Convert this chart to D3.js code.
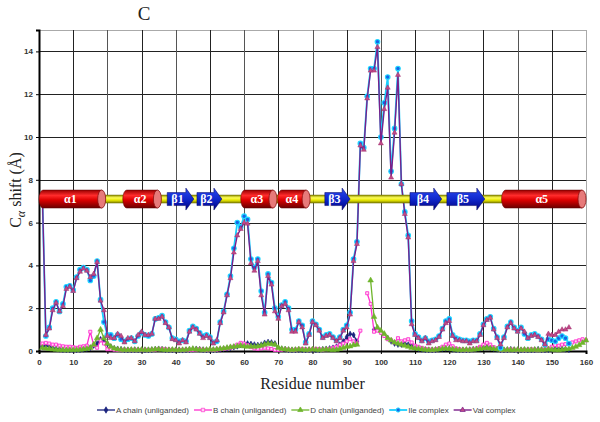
<!DOCTYPE html>
<html lang="en">
<head>
<meta charset="UTF-8">
<title>Ca shift</title>
<style>
body { margin: 0; background: #fff; }
.tick text { font: bold 8px Arial, "Liberation Sans", sans-serif; fill: #333; }
.serif { font-family: "Times New Roman", "Liberation Serif", serif; fill: #222; }
.legend text { font: 8px Arial, "Liberation Sans", sans-serif; fill: #444; }
.ss-label { font: bold 12px "Times New Roman", "Liberation Serif", serif; fill: #fff; }
</style>
</head>
<body>
<script src="https://d3js.org/d3.v7.min.js"></script>
<script>
// residue 1..n, values in Angstrom
var aChain = [0.2,0.25,0.2,0.15,0.1,0.08,0.06,0.05,0.05,0.05,
  0.05,0.06,0.08,0.1,0.15,0.25,0.35,0.55,0.5,0.35,
  0.2,0.12,0.1,0.08,0.06,0.05,0.05,0.06,0.05,0.05,
  0.05,0.05,0.06,0.08,0.1,0.08,0.06,0.05,0.05,0.05,
  0.05,0.04,0.05,0.06,0.08,0.1,0.08,0.06,0.05,0.05,
  0.05,0.06,0.08,0.1,0.12,0.15,0.18,0.22,0.28,0.3,
  0.35,0.33,0.3,0.28,0.3,0.38,0.42,0.4,0.35,0.15,
  0.1,0.08,0.06,0.05,0.05,0.06,0.05,0.05,0.06,0.05,
  0.05,0.06,0.08,0.1,0.12,0.15,0.2,0.3,0.45,0.65,
  0.8,0.75,0.45,null,null,null,null,1.0,1.05,0.9,
  0.75,0.6,0.45,0.35,0.3,0.3,0.35,0.3,0.25,0.15,
  0.1,0.08,0.06,0.05,0.05,0.06,0.08,0.1,0.12,0.1,
  0.08,0.06,0.05,0.05,0.05,0.06,0.08,0.1,0.12,0.15,
  0.18,0.15,0.1,0.08,0.06,0.05,0.06,0.08,0.06,0.05,
  0.05,0.06,0.05,0.05,0.06,0.08,0.06,0.05,0.06,0.08,
  0.1,0.12,0.1,0.08,0.06];

var bChain = [0.35,0.38,0.35,0.3,0.3,0.25,0.22,0.2,0.2,0.18,
  0.15,0.2,0.22,0.25,0.9,0.28,0.15,0.5,0.35,0.08,
  0.08,0.06,0.05,0.05,0.06,0.05,0.05,0.06,0.05,0.05,
  0.06,0.05,0.05,0.06,0.08,0.1,0.08,0.06,0.05,0.05,
  0.05,0.05,0.06,0.05,0.05,0.06,0.08,0.06,0.05,0.06,
  0.05,0.06,0.08,0.1,0.12,0.15,0.2,0.3,0.38,0.35,
  0.28,0.18,0.12,0.1,0.12,0.15,0.12,0.1,0.05,0.05,
  0.06,0.08,0.06,0.05,0.06,0.08,0.1,0.08,0.06,0.08,
  0.1,0.08,0.06,0.08,0.1,0.15,0.2,0.28,0.35,0.45,
  0.55,0.45,0.35,0.95,null,2.7,2.2,0.9,0.95,0.85,
  0.7,0.55,0.5,0.4,0.6,0.45,0.5,0.55,0.4,0.25,
  0.2,0.15,0.1,0.08,0.06,0.08,0.12,0.2,0.3,0.35,
  0.22,0.12,0.08,0.06,0.05,0.06,0.08,0.12,0.2,0.3,
  0.38,0.3,0.18,0.1,0.06,0.05,0.06,0.08,0.06,0.05,
  0.06,0.05,0.06,0.08,0.06,0.05,0.06,0.08,0.12,0.2,
  0.28,0.25,0.3,0.32,0.35,0.4,0.45,0.5,0.55,0.5];

var dChain = [0.15,0.12,0.1,0.08,0.06,0.05,0.05,0.04,0.05,0.05,
  0.05,0.06,0.08,0.1,0.15,0.3,0.6,1.0,0.6,0.35,
  0.2,0.12,0.08,0.06,0.05,0.05,0.06,0.05,0.05,0.06,
  0.05,0.05,0.06,0.08,0.08,0.06,0.05,0.05,0.06,0.05,
  0.05,0.05,0.06,0.08,0.1,0.08,0.06,0.05,0.06,0.08,
  0.06,0.08,0.1,0.12,0.15,0.18,0.2,0.22,0.25,0.22,
  0.2,0.22,0.2,0.22,0.25,0.3,0.35,0.33,0.3,0.15,
  0.1,0.08,0.06,0.05,0.06,0.08,0.06,0.05,0.06,0.08,
  0.06,0.05,0.06,0.08,0.06,0.05,0.06,0.1,0.15,0.2,
  0.22,0.28,0.3,null,null,null,3.3,1.6,1.1,0.95,
  0.8,0.6,0.5,0.4,0.35,0.3,0.25,0.2,0.15,0.12,
  0.1,0.08,0.06,0.05,0.05,0.06,0.08,0.1,0.12,0.1,
  0.08,0.06,0.05,0.05,0.06,0.05,0.06,0.08,0.1,0.12,
  0.15,0.12,0.1,0.08,0.06,0.05,0.06,0.05,0.05,0.06,
  0.05,0.06,0.05,0.05,0.06,0.05,0.05,0.06,0.08,0.06,
  0.05,0.04,0.06,0.08,0.1,0.15,0.2,0.28,0.38,0.5];

var ileComplex = [7.2,0.7,1.1,2.0,2.3,1.85,2.2,3.0,3.05,2.85,
  3.45,3.8,3.9,3.8,3.3,3.5,4.2,2.4,1.35,0.75,
  0.75,0.6,0.75,0.55,0.45,0.55,0.6,0.45,0.7,0.85,
  0.75,0.7,0.8,1.5,1.55,1.65,1.35,1.1,0.6,0.55,
  0.45,0.5,0.45,0.95,1.15,1.05,0.85,0.7,0.75,0.65,
  0.4,0.45,1.35,1.85,2.65,3.5,4.8,6.0,5.8,6.3,
  6.15,4.3,3.9,4.3,2.8,1.8,3.6,3.2,2.0,1.6,
  2.15,2.3,2.0,1.0,1.0,1.4,1.2,0.4,0.8,1.4,
  1.25,1.0,0.65,0.75,0.8,0.65,0.5,0.65,1.0,1.2,
  1.8,4.3,5.1,9.7,9.5,11.9,13.2,13.2,14.45,10.0,
  11.6,12.8,8.4,10.4,13.2,7.8,6.5,5.4,1.4,0.8,
  0.65,0.5,0.6,0.45,0.5,0.55,0.7,1.05,1.4,1.5,
  0.75,0.6,0.55,0.5,0.5,0.45,0.5,0.5,0.8,1.25,
  1.5,1.6,1.05,0.65,0.15,0.65,1.15,1.35,1.1,0.95,
  1.1,0.8,0.6,0.75,0.8,0.7,0.55,0.3,0.55,0.5,
  0.45,0.6,0.7,0.6,0.35];

var valComplex = [7.2,0.75,1.05,1.9,2.25,1.85,2.1,2.9,3.0,2.8,
  3.4,3.7,3.85,3.75,3.45,3.6,4.15,2.35,1.9,0.7,
  0.6,0.6,0.8,0.7,0.4,0.6,0.6,0.45,0.75,0.9,
  0.75,0.75,0.8,1.5,1.5,1.6,1.3,1.1,0.55,0.5,
  0.35,0.5,0.4,0.9,1.1,1.0,0.8,0.6,0.7,0.6,
  0.35,0.5,1.3,1.8,2.6,3.4,4.6,5.4,5.7,6.0,
  5.95,4.1,3.75,4.2,2.6,1.7,3.5,3.1,1.85,1.5,
  2.1,2.2,1.9,0.9,0.9,1.35,1.1,0.35,0.75,1.35,
  1.2,0.95,0.6,0.7,0.75,0.6,0.45,0.6,0.95,1.1,
  1.7,4.2,5.0,9.6,9.4,11.8,13.1,13.1,14.2,9.7,
  11.3,12.3,8.1,10.2,12.9,7.8,6.4,5.3,1.25,0.75,
  0.6,0.45,0.6,0.35,0.45,0.5,0.65,1.0,1.3,1.4,
  0.7,0.5,0.5,0.45,0.45,0.35,0.45,0.45,0.75,1.2,
  1.45,1.55,1.0,0.6,0.3,0.6,1.1,1.3,1.05,0.9,
  1.05,0.9,0.6,0.7,0.75,0.65,0.5,0.3,0.8,0.75,
  0.75,0.9,1.0,1.0,1.1];

var seriesNames = ["A chain (unliganded)", "B chain (unliganded)", "D chain (unliganded)", "Ile complex", "Val complex"];
var seriesValues = [aChain, bChain, dChain, ileComplex, valComplex];

// secondary structure, in residue numbers
var ssNames = ["α1","α2","β1","β2","α3","α4","β3","β4","β5","α5"];
var ssTypes = ["H","H","E","E","H","H","E","E","E","H"];
var ssStart = [0, 24.5, 37.5, 46.2, 59, 69.8, 83.6, 108.5, 119.3, 135.3];
var ssEnd   = [19.5, 35.8, 45.3, 53.5, 69.6, 79.3, 91, 117.8, 130.4, 160];
var ssLevel = 7.1;

var xTicks = d3.range(0, 161, 10);
var yTicks = d3.range(0, 15, 2);

var width = 600, height = 422;
var x = d3.scaleLinear().domain([0, 160]).range([39, 586]);
var y = d3.scaleLinear().domain([0, 15]).range([351, 30]);

var svg = d3.select("body").append("svg")
    .attr("width", width)
    .attr("height", height);

var defs = svg.append("defs");
function vgrad(id, stops) {
  var g = defs.append("linearGradient").attr("id", id)
      .attr("x1", 0).attr("y1", 0).attr("x2", 0).attr("y2", 1);
  stops.forEach(function(s) {
    g.append("stop").attr("offset", s[0]).attr("stop-color", s[1]);
  });
}
vgrad("helixGrad", [[0, "#9a0000"], [0.3, "#ff2b2b"], [0.55, "#dd0000"], [1, "#6a0000"]]);
vgrad("coilGrad", [[0, "#8f8f00"], [0.35, "#ffff55"], [0.65, "#e5e500"], [1, "#7f7f00"]]);
vgrad("strandGrad", [[0, "#2a48f0"], [0.5, "#1028cc"], [1, "#000080"]]);

// grid
var grid = svg.append("g");
grid.selectAll(".hg").data(yTicks.filter(function(d) { return d > 0; }).concat([15]))
  .enter().append("line")
    .attr("x1", x(0)).attr("x2", x(160))
    .attr("y1", function(d) { return Math.round(y(d)) + 0.5; })
    .attr("y2", function(d) { return Math.round(y(d)) + 0.5; })
    .attr("stroke", function(d) { return d === 15 ? "#aaa" : "#222"; })
    .attr("stroke-width", 1);
grid.selectAll(".vg").data(xTicks.filter(function(d) { return d > 0; }))
  .enter().append("line")
    .attr("y1", y(0)).attr("y2", y(15))
    .attr("x1", function(d) { return Math.round(x(d)) + 0.5; })
    .attr("x2", function(d) { return Math.round(x(d)) + 0.5; })
    .attr("stroke", function(d) { return d === 160 ? "#aaa" : (d % 20 === 0 ? "#555" : "#222"); })
    .attr("stroke-width", 1);

// axes
var xAxis = svg.append("g")
    .attr("transform", "translate(0," + y(0) + ")")
    .call(d3.axisBottom(x).tickValues(xTicks).tickSize(3).tickPadding(5));
var yAxis = svg.append("g")
    .attr("transform", "translate(" + x(0) + ",0)")
    .call(d3.axisLeft(y).tickValues(yTicks).tickSize(3).tickPadding(3));
[xAxis, yAxis].forEach(function(a) {
  a.select(".domain").attr("stroke", "#000").attr("stroke-width", 2);
  a.selectAll(".tick line").attr("stroke", "#000");
});

// series
var colors = ["#1a237e", "#ff2fd0", "#6fb52c", "#19d0ff", "#7a1f8a"];
var widths = [1.3, 1.3, 1.3, 1.8, 1.4];
var shapes = [d3.symbolDiamond, d3.symbolSquare, d3.symbolTriangle, null, d3.symbolTriangle];
var sizes = [10, 9, 14, 0, 11];
var fills = ["#1a237e", "#ffd6f2", "#6fb52c", null, "#c04a86"];
var strokes = ["#1a237e", "#ff2fd0", "#6fb52c", null, "#a03070"];

var line = d3.line()
    .defined(function(d) { return d != null; })
    .x(function(d, i) { return x(i + 1); })
    .y(function(d) { return y(d); });

var plot = svg.append("g");
seriesValues.forEach(function(vals, k) {
  var g = plot.append("g");
  g.append("path")
    .datum(vals)
    .attr("d", line)
    .attr("fill", "none")
    .attr("stroke", colors[k])
    .attr("stroke-width", widths[k])
    .attr("stroke-linejoin", "round");
  var pts = vals.map(function(v, i) { return {r: i + 1, v: v}; })
      .filter(function(d) { return d.v != null; });
  drawMarkers(g, pts, k);
});

function drawMarkers(g, pts, k) {
  var sel = g.selectAll(".m").data(pts).enter();
  if (k === 3) {
    sel.append("circle")
      .attr("cx", function(d) { return x(d.r); })
      .attr("cy", function(d) { return y(d.v); })
      .attr("r", 2.3)
      .attr("fill", "#1565e8")
      .attr("stroke", "#22d8ff")
      .attr("stroke-width", 1.1);
    return;
  }
  sel.append("path")
    .attr("d", d3.symbol().type(shapes[k]).size(sizes[k]))
    .attr("transform", function(d) { return "translate(" + x(d.r) + "," + y(d.v) + ")"; })
    .attr("fill", fills[k])
    .attr("stroke", strokes[k])
    .attr("stroke-width", k === 1 ? 0.9 : 0.5);
}

// secondary structure cartoon
var ss = svg.append("g");
var cy = y(ssLevel);
var tubeH = 4;
ss.append("rect")
    .attr("x", x(ssStart[0]) + 20).attr("width", x(ssEnd[ssEnd.length - 1]) - x(ssStart[0]) - 40)
    .attr("y", cy - tubeH).attr("height", tubeH * 2)
    .attr("rx", tubeH).attr("ry", tubeH)
    .attr("fill", "url(#coilGrad)")
    .attr("stroke", "#6b6b00").attr("stroke-width", 0.5);

ssNames.forEach(function(name, i) {
  var x0 = x(ssStart[i]), x1 = x(ssEnd[i]);
  var g = ss.append("g");
  if (ssTypes[i] === "H") {
    var ry = 9, rx = 4;
    g.append("path")
      .attr("d", "M" + (x1 - rx) + "," + (cy - ry) +
                 " L" + (x0 + rx) + "," + (cy - ry) +
                 " A" + rx + "," + ry + " 0 0 0 " + (x0 + rx) + "," + (cy + ry) +
                 " L" + (x1 - rx) + "," + (cy + ry) + " Z")
      .attr("fill", "url(#helixGrad)")
      .attr("stroke", "#600000").attr("stroke-width", 0.5);
    g.append("ellipse")
      .attr("cx", x1 - rx).attr("cy", cy)
      .attr("rx", rx).attr("ry", ry)
      .attr("fill", "#e77a7a")
      .attr("stroke", "#8a1010").attr("stroke-width", 0.8);
    g.append("text").attr("class", "ss-label")
      .attr("x", (x0 + x1) / 2 - 2).attr("y", cy + 4)
      .attr("text-anchor", "middle").text(name);
  } else {
    var bh = 6.5, hh = 11, hl = 8;
    g.append("path")
      .attr("d", "M" + x0 + "," + (cy - bh) +
                 " L" + (x1 - hl) + "," + (cy - bh) +
                 " L" + (x1 - hl) + "," + (cy - hh) +
                 " L" + x1 + "," + cy +
                 " L" + (x1 - hl) + "," + (cy + hh) +
                 " L" + (x1 - hl) + "," + (cy + bh) +
                 " L" + x0 + "," + (cy + bh) + " Z")
      .attr("fill", "url(#strandGrad)")
      .attr("stroke", "#000060").attr("stroke-width", 0.5);
    g.append("text").attr("class", "ss-label")
      .attr("x", (x0 + x1 - hl) / 2 + 1).attr("y", cy + 4)
      .attr("text-anchor", "middle").text(name);
  }
});

// titles
svg.append("text").attr("class", "serif")
    .attr("x", 144).attr("y", 20)
    .attr("text-anchor", "middle")
    .style("font-size", "19px")
    .text("C");

svg.append("text").attr("class", "serif")
    .attr("x", (x(0) + x(160)) / 2).attr("y", 389)
    .attr("text-anchor", "middle")
    .style("font-size", "16px")
    .text("Residue number");

var yt = svg.append("text").attr("class", "serif")
    .attr("transform", "translate(21," + 190 + ") rotate(-90)")
    .attr("text-anchor", "middle")
    .style("font-size", "16px");
yt.append("tspan").text("C");
yt.append("tspan").attr("dy", 4).style("font-style", "italic").style("font-size", "12px").text("α");
yt.append("tspan").attr("dy", -4).text(" shift (Å)");

// legend
var legend = svg.append("g").attr("class", "legend")
    .attr("transform", "translate(97,410)");
var lx = 0;
seriesNames.forEach(function(name, k) {
  var g = legend.append("g").attr("transform", "translate(" + lx + ",0)");
  g.append("line").attr("x1", 0).attr("x2", 18).attr("y1", 0).attr("y2", 0)
    .attr("stroke", colors[k]).attr("stroke-width", widths[k]);
  if (k === 3) {
    g.append("circle").attr("cx", 9).attr("cy", 0).attr("r", 2.1)
      .attr("fill", "#1565e8").attr("stroke", "#22d8ff");
  } else {
    g.append("path").attr("d", d3.symbol().type(shapes[k]).size(12))
      .attr("transform", "translate(9,0)")
      .attr("fill", fills[k]).attr("stroke", colors[k]).attr("stroke-width", 0.7);
  }
  var t = g.append("text").attr("x", 19).attr("y", 3).text(name);
  lx += 19 + t.node().getComputedTextLength() + 5;
});
</script>
</body>
</html>
